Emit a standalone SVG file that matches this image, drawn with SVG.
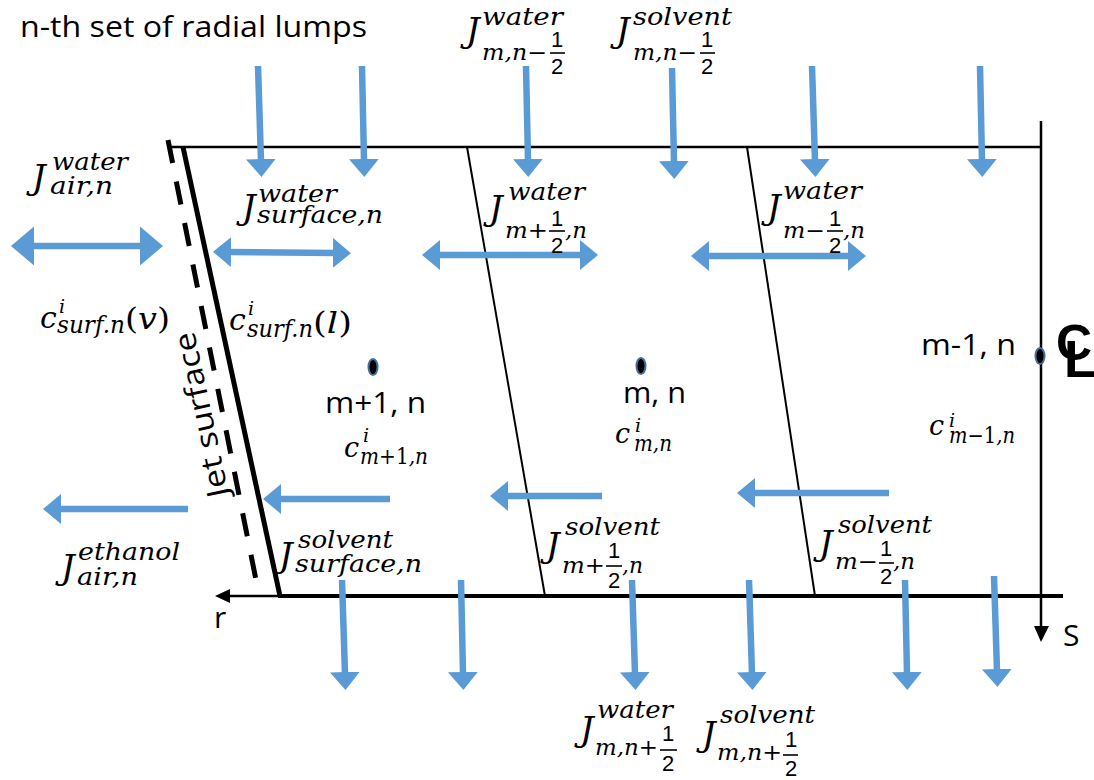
<svg xmlns="http://www.w3.org/2000/svg" width="1094" height="780" viewBox="0 0 1094 780">
<style>
.t{font-family:"Open Sans","Liberation Sans",sans-serif;font-size:30px;fill:#000}
.J{font-family:"DejaVu Serif",serif;font-style:italic;font-size:34px;fill:#000}
.s{font-family:"DejaVu Serif",serif;font-style:italic;font-size:25px}
.sb{font-family:"DejaVu Serif",serif;font-style:italic;font-size:22px}
.c{font-family:"DejaVu Serif",serif;font-style:italic;font-size:30px;fill:#000}
.c2{font-family:"DejaVu Serif",serif;font-style:italic;font-size:27px;fill:#000}
.ci{font-size:19px}
.d{font-family:"Liberation Sans",sans-serif;font-style:normal;font-size:22px}
.up{font-style:normal}
.fb{stroke:#000;stroke-width:1.6}
.bl{stroke:#5B9BD5;stroke-width:6.5;fill:none}
.a1{marker-end:url(#ah)}
.a2{marker-start:url(#ah);marker-end:url(#ah)}
.k{stroke:#000;fill:none}
.dot{fill:#000;stroke:#41719C;stroke-width:2}
</style>
<defs>
<marker id="ah" markerUnits="userSpaceOnUse" markerWidth="18" markerHeight="30" viewBox="0 0 18 30" refX="2" refY="15" orient="auto-start-reverse"><path d="M0,0 L18,15 L0,30 z" fill="#5B9BD5"/></marker>
<marker id="ahL" markerUnits="userSpaceOnUse" markerWidth="23" markerHeight="39" viewBox="0 0 23 39" refX="2" refY="19.5" orient="auto-start-reverse"><path d="M0,0 L23,19.5 L0,39 z" fill="#5B9BD5"/></marker>
</defs>
<rect width="1094" height="780" fill="#fff"/>

<g id="frame">
<line class="k" x1="170" y1="147" x2="1041" y2="147" stroke-width="2.5"/>
<line class="k" x1="1041" y1="121" x2="1041" y2="628" stroke-width="2.5"/>
<polygon points="1034,626 1049,626 1041,642" fill="#000"/>
<line class="k" x1="278" y1="596" x2="1063" y2="596" stroke-width="4"/>
<line class="k" x1="228" y1="596" x2="280" y2="596" stroke-width="2.5"/>
<polygon points="230,589 230,603 215,596" fill="#000"/>
<line class="k" x1="467" y1="147" x2="545" y2="596" stroke-width="2"/>
<line class="k" x1="747" y1="147" x2="815" y2="596" stroke-width="2"/>
</g>

<g id="jet-surface">
<line class="k" x1="183" y1="147" x2="280" y2="596" stroke-width="5"/>
<line class="k" x1="168" y1="140" x2="256" y2="580" stroke-width="5" stroke-dasharray="23.5 18.8"/>
<text class="t" transform="translate(229,495) rotate(-102)" textLength="168" lengthAdjust="spacingAndGlyphs" font-size="32">Jet surface</text>
</g>

<g id="connectors">
<line class="bl a1" x1="258" y1="66" x2="261" y2="161"/>
<line class="bl a1" x1="362" y1="66" x2="364" y2="161"/>
<line class="bl a1" x1="526" y1="66" x2="528" y2="161"/>
<line class="bl a1" x1="672" y1="68" x2="674" y2="163"/>
<line class="bl a1" x1="812" y1="66" x2="815" y2="161"/>
<line class="bl a1" x1="980" y1="66" x2="982" y2="161"/>
<line class="bl a1" x1="342" y1="580" x2="345" y2="674"/>
<line class="bl a1" x1="461" y1="580" x2="463" y2="674"/>
<line class="bl a1" x1="632" y1="580" x2="635" y2="674"/>
<line class="bl a1" x1="749" y1="580" x2="752" y2="674"/>
<line class="bl a1" x1="905" y1="580" x2="907" y2="674"/>
<line class="bl a1" x1="994" y1="576" x2="997" y2="671"/>
<line class="bl" x1="32" y1="246" x2="142" y2="246" marker-start="url(#ahL)" marker-end="url(#ahL)"/>
<line class="bl a2" x1="229" y1="252" x2="335" y2="253"/>
<line class="bl a2" x1="438" y1="255" x2="582" y2="255"/>
<line class="bl a2" x1="707" y1="256" x2="850" y2="256"/>
<line class="bl a1" x1="188" y1="509" x2="59" y2="509"/>
<line class="bl a1" x1="390" y1="499" x2="279" y2="499"/>
<line class="bl a1" x1="602" y1="496" x2="506" y2="496"/>
<line class="bl a1" x1="889" y1="493" x2="753" y2="493"/>
</g>

<g id="title"><text class="t" x="20" y="37" textLength="347" lengthAdjust="spacingAndGlyphs">n-th set of radial lumps</text></g>

<g id="node-m1"><ellipse class="dot" cx="373" cy="367" rx="4.5" ry="8"/><text class="t" x="325" y="413" textLength="101" lengthAdjust="spacingAndGlyphs">m+1, n</text>
<text class="c2" x="344" y="457">c<tspan class="ci" x="363" y="442">i</tspan><tspan class="sb" x="360" y="464" textLength="68" lengthAdjust="spacingAndGlyphs">m<tspan class="up">+1</tspan>,n</tspan></text></g>
<g id="node-m"><ellipse class="dot" cx="641" cy="366" rx="4.5" ry="8"/><text class="t" x="623" y="403" textLength="63" lengthAdjust="spacingAndGlyphs">m, n</text>
<text class="c2" x="615" y="443">c<tspan class="ci" x="635" y="432">i</tspan><tspan class="sb" x="634" y="451" textLength="38" lengthAdjust="spacingAndGlyphs">m,n</tspan></text></g>
<g id="node-m-1"><ellipse class="dot" cx="1040" cy="356" rx="4.5" ry="8"/><text class="t" x="921" y="355" textLength="95" lengthAdjust="spacingAndGlyphs">m-1, n</text>
<text class="c2" x="929" y="435">c<tspan class="ci" x="949" y="427">i</tspan><tspan class="sb" x="949" y="443" textLength="66" lengthAdjust="spacingAndGlyphs">m<tspan class="up">−1</tspan>,n</tspan></text></g>

<g id="axes-labels">
<text class="t" x="214" y="628">r</text>
<text class="t" x="1063" y="646">S</text>
<text x="1056" y="360" font-family="Liberation Sans,sans-serif" font-weight="bold" font-size="50">C<tspan x="1064" y="377" font-size="52">L</tspan></text>
</g>

<g id="label-water-air"><text class="J" x="32" y="189">J<tspan class="s" x="52" y="170" textLength="76" lengthAdjust="spacingAndGlyphs">water</tspan><tspan class="s" x="50" y="194" textLength="63" lengthAdjust="spacingAndGlyphs">air,n</tspan></text></g>
<g id="label-water-surface"><text class="J" x="242" y="219">J<tspan class="s" x="258" y="202" textLength="79" lengthAdjust="spacingAndGlyphs">water</tspan><tspan class="s" x="257" y="223" textLength="126" lengthAdjust="spacingAndGlyphs">surface,n</tspan></text></g>
<g id="label-water-mp"><text class="J" x="489" y="220">J<tspan class="s" x="508" y="200" textLength="77" lengthAdjust="spacingAndGlyphs">water</tspan><tspan class="sb" x="505" y="238" textLength="43" lengthAdjust="spacingAndGlyphs">m<tspan class="up">+</tspan></tspan><tspan class="d" x="551" y="226">1</tspan><tspan class="d" x="551" y="253">2</tspan><tspan class="sb" x="565" y="238" textLength="22" lengthAdjust="spacingAndGlyphs">,n</tspan></text><line class="fb" x1="549" y1="231" x2="565" y2="231"/></g>
<g id="label-water-mm"><text class="J" x="767" y="219">J<tspan class="s" x="783" y="199" textLength="79" lengthAdjust="spacingAndGlyphs">water</tspan><tspan class="sb" x="783" y="238" textLength="42" lengthAdjust="spacingAndGlyphs">m<tspan class="up">−</tspan></tspan><tspan class="d" x="829" y="226">1</tspan><tspan class="d" x="829" y="253">2</tspan><tspan class="sb" x="843" y="238" textLength="22" lengthAdjust="spacingAndGlyphs">,n</tspan></text><line class="fb" x1="827" y1="231" x2="843" y2="231"/></g>
<g id="label-water-top"><text class="J" x="466" y="42">J<tspan class="s" x="482" y="25" textLength="81" lengthAdjust="spacingAndGlyphs">water</tspan><tspan class="sb" x="482" y="60" textLength="65" lengthAdjust="spacingAndGlyphs">m,n<tspan class="up">−</tspan></tspan><tspan class="d" x="551" y="47">1</tspan><tspan class="d" x="551" y="74">2</tspan></text><line class="fb" x1="550" y1="53" x2="565" y2="53"/></g>
<g id="label-solvent-top"><text class="J" x="616" y="42">J<tspan class="s" x="633" y="25" textLength="99" lengthAdjust="spacingAndGlyphs">solvent</tspan><tspan class="sb" x="633" y="60" textLength="64" lengthAdjust="spacingAndGlyphs">m,n<tspan class="up">−</tspan></tspan><tspan class="d" x="701" y="47">1</tspan><tspan class="d" x="701" y="74">2</tspan></text><line class="fb" x1="700" y1="53" x2="715" y2="53"/></g>
<g id="label-c-surf-v"><text class="c" x="40" y="328">c<tspan class="ci" x="59" y="313">i</tspan><tspan class="s" x="57" y="333" textLength="68" lengthAdjust="spacingAndGlyphs">surf.n</tspan><tspan x="125" y="329" textLength="45" lengthAdjust="spacingAndGlyphs"><tspan class="up">(</tspan>v<tspan class="up">)</tspan></tspan></text></g>
<g id="label-c-surf-l"><text class="c" x="229" y="330">c<tspan class="ci" x="248" y="315">i</tspan><tspan class="s" x="247" y="337" textLength="66" lengthAdjust="spacingAndGlyphs">surf.n</tspan><tspan x="313" y="333" textLength="39" lengthAdjust="spacingAndGlyphs"><tspan class="up">(</tspan>l<tspan class="up">)</tspan></tspan></text></g>
<g id="label-ethanol-air"><text class="J" x="61" y="579">J<tspan class="s" x="78" y="560" textLength="102" lengthAdjust="spacingAndGlyphs">ethanol</tspan><tspan class="s" x="77" y="585" textLength="61" lengthAdjust="spacingAndGlyphs">air,n</tspan></text></g>
<g id="label-solvent-surface"><text class="J" x="279" y="567">J<tspan class="s" x="298" y="548" textLength="95" lengthAdjust="spacingAndGlyphs">solvent</tspan><tspan class="s" x="295" y="572" textLength="127" lengthAdjust="spacingAndGlyphs">surface,n</tspan></text></g>
<g id="label-solvent-mp"><text class="J" x="546" y="557">J<tspan class="s" x="565" y="535" textLength="95" lengthAdjust="spacingAndGlyphs">solvent</tspan><tspan class="sb" x="562" y="573" textLength="43" lengthAdjust="spacingAndGlyphs">m<tspan class="up">+</tspan></tspan><tspan class="d" x="608" y="558">1</tspan><tspan class="d" x="608" y="588">2</tspan><tspan class="sb" x="622" y="573" textLength="21" lengthAdjust="spacingAndGlyphs">,n</tspan></text><line class="fb" x1="606" y1="566" x2="622" y2="566"/></g>
<g id="label-solvent-mm"><text class="J" x="819" y="555">J<tspan class="s" x="838" y="533" textLength="94" lengthAdjust="spacingAndGlyphs">solvent</tspan><tspan class="sb" x="835" y="569" textLength="43" lengthAdjust="spacingAndGlyphs">m<tspan class="up">−</tspan></tspan><tspan class="d" x="880" y="556">1</tspan><tspan class="d" x="880" y="584">2</tspan><tspan class="sb" x="893" y="569" textLength="22" lengthAdjust="spacingAndGlyphs">,n</tspan></text><line class="fb" x1="879" y1="563" x2="894" y2="563"/></g>
<g id="label-water-bottom"><text class="J" x="580" y="741">J<tspan class="s" x="597" y="718" textLength="76" lengthAdjust="spacingAndGlyphs">water</tspan><tspan class="sb" x="595" y="755" textLength="63" lengthAdjust="spacingAndGlyphs">m,n<tspan class="up">+</tspan></tspan><tspan class="d" x="662" y="741">1</tspan><tspan class="d" x="662" y="771">2</tspan></text><line class="fb" x1="660" y1="750" x2="677" y2="750"/></g>
<g id="label-solvent-bottom"><text class="J" x="702" y="746">J<tspan class="s" x="720" y="723" textLength="95" lengthAdjust="spacingAndGlyphs">solvent</tspan><tspan class="sb" x="717" y="760" textLength="65" lengthAdjust="spacingAndGlyphs">m,n<tspan class="up">+</tspan></tspan><tspan class="d" x="785" y="747">1</tspan><tspan class="d" x="785" y="776">2</tspan></text><line class="fb" x1="783" y1="755" x2="798" y2="755"/></g>
</svg>
